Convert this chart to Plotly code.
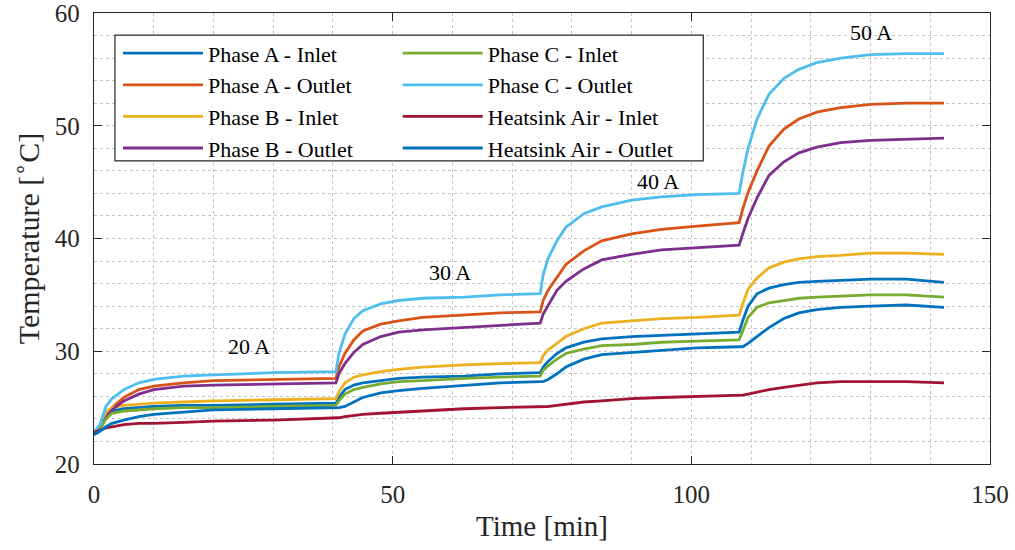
import plotly.graph_objects as go

# ---------------- data ----------------
time_min = [0, 1, 2, 3, 5, 7.5, 10, 15, 20, 30, 40.5,
            41, 42, 43.5, 45, 48, 51, 55, 62, 68, 74.7,
            75.2, 76, 77.5, 79, 82, 85, 90, 95, 101, 108,
            108.6, 109.5, 111, 113, 115.5, 118, 121, 125, 130, 136, 142.3]

phase_a_inlet = [22.8, 23.2, 24.3, 24.7, 24.9, 25.0, 25.1, 25.2, 25.2, 25.3, 25.4,
                 25.9, 26.6, 27.0, 27.2, 27.4, 27.6, 27.7, 27.8, 28.0, 28.1,
                 28.6, 29.1, 29.8, 30.3, 30.8, 31.1, 31.3, 31.4, 31.5, 31.7,
                 32.7, 34.0, 35.1, 35.6, 35.9, 36.1, 36.2, 36.3, 36.4, 36.4, 36.1]
phase_a_outlet = [22.8, 23.2, 24.3, 25.0, 25.9, 26.6, 26.9, 27.2, 27.4, 27.5, 27.6,
                  28.6, 29.8, 31.0, 31.8, 32.4, 32.7, 33.0, 33.2, 33.4, 33.5,
                  34.5, 35.4, 36.6, 37.7, 38.9, 39.8, 40.4, 40.8, 41.1, 41.4,
                  42.6, 44.1, 46.0, 48.2, 49.7, 50.6, 51.2, 51.6, 51.9, 52.0, 52.0]
phase_b_inlet = [22.8, 23.3, 24.6, 25.0, 25.2, 25.3, 25.4, 25.5, 25.6, 25.7, 25.8,
                 26.4, 27.2, 27.7, 27.9, 28.2, 28.4, 28.6, 28.8, 28.9, 29.0,
                 29.6, 30.1, 30.7, 31.3, 32.0, 32.5, 32.7, 32.9, 33.0, 33.2,
                 34.2, 35.5, 36.5, 37.4, 37.9, 38.2, 38.4, 38.5, 38.7, 38.7, 38.6]
phase_b_outlet = [22.8, 23.1, 24.1, 24.8, 25.6, 26.2, 26.6, 26.9, 27.0, 27.1, 27.2,
                  28.0, 28.9, 29.9, 30.6, 31.3, 31.7, 31.9, 32.1, 32.3, 32.5,
                  33.3, 34.0, 35.4, 36.2, 37.3, 38.1, 38.6, 39.0, 39.2, 39.4,
                  40.4, 41.8, 43.6, 45.6, 46.8, 47.6, 48.1, 48.5, 48.7, 48.8, 48.9]
phase_c_inlet = [22.8, 23.1, 24.0, 24.5, 24.7, 24.8, 24.9, 25.0, 25.0, 25.1, 25.2,
                 25.6, 26.2, 26.6, 26.8, 27.1, 27.3, 27.4, 27.6, 27.7, 27.8,
                 28.3, 28.7, 29.3, 29.8, 30.2, 30.5, 30.6, 30.8, 30.9, 31.0,
                 31.8, 33.0, 33.9, 34.3, 34.5, 34.7, 34.8, 34.9, 35.0, 35.0, 34.8]
phase_c_outlet = [22.8, 23.5, 25.1, 25.8, 26.6, 27.2, 27.5, 27.8, 27.9, 28.1, 28.2,
                  29.8, 31.5, 32.9, 33.6, 34.2, 34.5, 34.7, 34.8, 35.0, 35.1,
                  36.8, 38.2, 39.8, 41.0, 42.2, 42.8, 43.4, 43.7, 43.9, 44.0,
                  45.8, 48.0, 50.6, 52.8, 54.2, 55.0, 55.6, 56.0, 56.3, 56.4, 56.4]
heatsink_inlet = [22.8, 23.0, 23.2, 23.3, 23.5, 23.6, 23.6, 23.7, 23.8, 23.9, 24.1,
                  24.1, 24.2, 24.3, 24.4, 24.5, 24.6, 24.7, 24.9, 25.0, 25.1,
                  25.1, 25.1, 25.2, 25.3, 25.5, 25.6, 25.8, 25.9, 26.0, 26.1,
                  26.1, 26.2, 26.4, 26.6, 26.8, 27.0, 27.2, 27.3, 27.3, 27.3, 27.2]
heatsink_outlet = [22.6, 22.9, 23.3, 23.6, 23.9, 24.2, 24.4, 24.6, 24.8, 24.9, 25.0,
                   25.0, 25.1, 25.5, 25.9, 26.3, 26.5, 26.7, 27.0, 27.2, 27.3,
                   27.3, 27.5, 28.0, 28.6, 29.3, 29.7, 29.9, 30.1, 30.3, 30.4,
                   30.4, 30.7, 31.3, 32.1, 32.9, 33.4, 33.7, 33.9, 34.0, 34.1, 33.9]

series_names = ["Phase A - Inlet", "Phase A - Outlet", "Phase B - Inlet", "Phase B - Outlet",
                "Phase C - Inlet", "Phase C - Outlet", "Heatsink Air - Inlet", "Heatsink Air - Outlet"]
series_values = [phase_a_inlet, phase_a_outlet, phase_b_inlet, phase_b_outlet,
                 phase_c_inlet, phase_c_outlet, heatsink_inlet, heatsink_outlet]
series_colors = ["#0072BD", "#D95319", "#EDB120", "#7E2F8E",
                 "#77AC30", "#4DBEEE", "#A2142F", "#0072BD"]
series_legend = ["legend", "legend", "legend", "legend",
                 "legend2", "legend2", "legend2", "legend2"]

current_labels = ["20 A", "30 A", "40 A", "50 A"]
label_time = [26, 59.6, 94.5, 130]
label_temp = [30.4, 37.0, 45.1, 58.3]

x_ticks = [0, 50, 100, 150]
y_ticks = [20, 30, 40, 50, 60]

# ---------------- figure ----------------
FONT = "Liberation Serif, Times New Roman, serif"
AXC = "#262626"
GRID = "#c4c4c4"

fig = go.Figure()
for name, vals, col, lg in zip(series_names, series_values, series_colors, series_legend):
    fig.add_trace(go.Scatter(x=time_min, y=vals, mode="lines", name=name,
                             line=dict(color=col, width=2.8), legend=lg))

for txt, tx, ty in zip(current_labels, label_time, label_temp):
    fig.add_annotation(x=tx, y=ty, text=txt, showarrow=False,
                       font=dict(family=FONT, size=22, color="black"))

# legend frame
fig.add_shape(type="rect", xref="paper", yref="paper",
              x0=0.0234, x1=0.680, y0=0.672, y1=0.951,
              fillcolor="white", line=dict(color=AXC, width=1.2), layer="above")

legend_common = dict(font=dict(family=FONT, size=22, color="black"),
                     bgcolor="rgba(0,0,0,0)", borderwidth=0, itemwidth=80,
                     xanchor="left", yanchor="top", orientation="v",
                     itemclick=False, itemdoubleclick=False)

axis_common = dict(showline=True, linecolor=AXC, linewidth=1.3, mirror="ticks",
                   ticks="inside", ticklen=8, tickcolor=AXC, tickwidth=1.3,
                   tickfont=dict(family=FONT, size=25, color=AXC),
                   ticklabeloverflow="allow", automargin=False,
                   showgrid=True, gridcolor=GRID, griddash="dot", gridwidth=1,
                   zeroline=False)

fig.update_layout(
    width=1015, height=550,
    margin=dict(l=94, r=25, t=13, b=86),
    paper_bgcolor="white", plot_bgcolor="white",
    font=dict(family=FONT, color="black"),
    showlegend=True,
    legend=dict(x=0.0268, y=0.957, **legend_common),
    legend2=dict(x=0.339, y=0.957, **legend_common),
    xaxis=dict(range=[0, 150], tickvals=x_ticks, ticklabelstandoff=8,
               minor=dict(dtick=10, showgrid=True, gridcolor=GRID, griddash="dot", gridwidth=1),
               title=dict(text="Time [min]", font=dict(family=FONT, size=29, color=AXC), standoff=8),
               **axis_common),
    yaxis=dict(range=[20, 60], tickvals=y_ticks, ticklabelstandoff=8,
               minor=dict(dtick=2, showgrid=True, gridcolor=GRID, griddash="dot", gridwidth=1),
               title=dict(text="Temperature [<sup>∘</sup>C]", font=dict(family=FONT, size=30, color=AXC), standoff=6),
               **axis_common),
)

fig.write_html("out.html")
